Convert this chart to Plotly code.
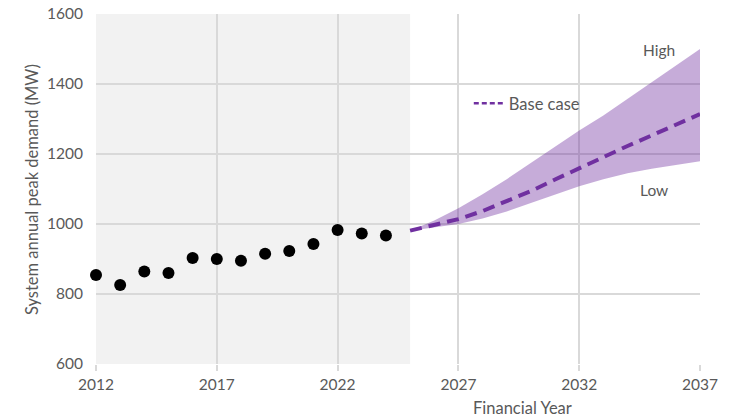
import plotly.graph_objects as go

# Historical system peak demand (MW)
hist_years = [2012, 2013, 2014, 2015, 2016, 2017, 2018, 2019, 2020, 2021, 2022, 2023, 2024]
hist_mw = [854, 826, 864, 860, 903, 900, 895, 915, 923, 943, 983, 973, 967]

# Forecast scenarios (MW)
fc_years = [2025, 2026, 2027, 2028, 2029, 2030, 2031, 2032, 2033, 2034, 2035, 2036, 2037]
base_mw = [981, 997, 1014, 1037, 1064, 1094, 1127, 1160, 1193, 1223, 1253, 1283, 1314]
high_mw = [981, 1010, 1045, 1085, 1128, 1175, 1222, 1267, 1310, 1357, 1405, 1452, 1500]
low_mw = [981, 990, 1000, 1016, 1036, 1060, 1085, 1108, 1128, 1145, 1158, 1169, 1179]

x_ticks = [2012, 2017, 2022, 2027, 2032, 2037]
y_ticks = [600, 800, 1000, 1200, 1400, 1600]

PURPLE = "#7030a0"
TEXT = "#595959"
GRID = "#d9d9d9"
FONT = "Lato"

fig = go.Figure()

# Shaded actuals period
fig.add_vrect(x0=hist_years[0], x1=fc_years[0], fillcolor="#f2f2f2",
              line_width=0, layer="below")

# High / low range band
fig.add_trace(go.Scatter(x=fc_years, y=low_mw, mode="lines", line=dict(width=0),
                         showlegend=False, hoverinfo="skip"))
fig.add_trace(go.Scatter(x=fc_years, y=high_mw, mode="lines", line=dict(width=0),
                         fill="tonexty", fillcolor="rgba(112,48,160,0.4)",
                         showlegend=False, hoverinfo="skip"))

# Base case forecast
fig.add_trace(go.Scatter(x=fc_years, y=base_mw, mode="lines",
                         line=dict(color=PURPLE, width=4, dash="12px,7px"),
                         showlegend=False))
fig.add_trace(go.Scatter(x=[None], y=[None], mode="lines", name="Base case",
                         line=dict(color=PURPLE, width=2.5, dash="5px,3px")))

# Historical actuals
fig.add_trace(go.Scatter(x=hist_years, y=hist_mw, mode="markers",
                         marker=dict(color="black", size=12), cliponaxis=False,
                         showlegend=False))

fig.add_annotation(x=2035.3, y=1498, text="High", showarrow=False,
                   xanchor="center", yanchor="middle",
                   font=dict(family=FONT, size=15.5, color=TEXT))
fig.add_annotation(x=2035.1, y=1098, text="Low", showarrow=False,
                   xanchor="center", yanchor="middle",
                   font=dict(family=FONT, size=15.5, color=TEXT))
fig.add_annotation(xref="paper", yref="paper", x=0.7067, y=-0.126,
                   xanchor="center", yanchor="middle",
                   text="Financial Year", showarrow=False,
                   font=dict(family=FONT, size=16.5, color=TEXT))
fig.add_annotation(xref="paper", yref="paper", x=-0.107, y=0.498, textangle=-90,
                   xanchor="center", yanchor="middle",
                   text="System annual peak demand (MW)", showarrow=False,
                   font=dict(family=FONT, size=16.5, color=TEXT))

fig.update_layout(
    width=731, height=417,
    margin=dict(l=96, r=31, t=14, b=53, autoexpand=False),
    paper_bgcolor="white", plot_bgcolor="white",
    font=dict(family=FONT, size=15, color=TEXT),
    legend=dict(x=0.6172, y=0.744, xanchor="left", yanchor="middle",
                bgcolor="rgba(0,0,0,0)", font=dict(family=FONT, size=16.5, color=TEXT)),
)
fig.update_xaxes(range=[2012, 2037], tickvals=x_ticks, showgrid=True, gridcolor=GRID,
                 gridwidth=1.5, zeroline=False, showline=False, ticks="outside",
                 ticklen=6, tickcolor=GRID, tickwidth=1.5, automargin=False,
                 tickfont=dict(family=FONT, size=15.5, color=TEXT))
fig.update_yaxes(range=[600, 1600], tickvals=y_ticks, showgrid=True, gridcolor=GRID,
                 gridwidth=1.5, zeroline=False, showline=False, ticks="",
                 ticklabelstandoff=12, automargin=False,
                 tickfont=dict(family=FONT, size=15.5, color=TEXT))

fig.write_html("out.html")
